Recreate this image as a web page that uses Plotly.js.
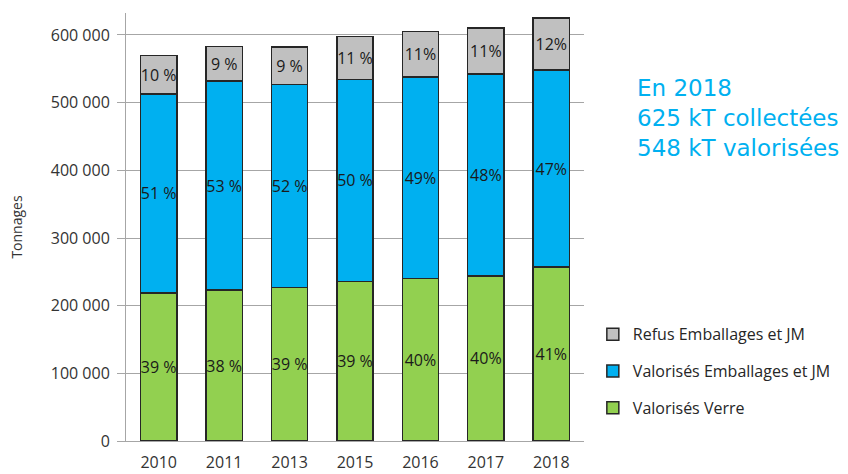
<!DOCTYPE html>
<html>
<head>
<meta charset="utf-8">
<script src="https://cdn.plot.ly/plotly-3.0.1.min.js"></script>
<style>html,body{margin:0;padding:0;background:#fff;}#chart{width:848px;height:474px;}</style>
</head>
<body>
<div id="chart"></div>
<script>
var years = ['2010', '2011', '2013', '2015', '2016', '2017', '2018'];
var verre = [219000, 223000, 227000, 236000, 240000, 244000, 257000];
var emballages = [294000, 309000, 300000, 298000, 298000, 298000, 291000];
var refus = [57000, 51000, 55000, 64000, 67000, 68000, 77000];
var verreLabels = ['39 %', '38 %', '39 %', '39 %', '40%', '40%', '41%'];
var emballagesLabels = ['51 %', '53 %', '52 %', '50 %', '49%', '48%', '47%'];
var refusLabels = ['10 %', '9 %', '9 %', '11 %', '11%', '11%', '12%'];
var yTicks = [0, 100000, 200000, 300000, 400000, 500000, 600000];
var noteLines = ['En 2018', '625 kT collectées', '548 kT valorisées'];

var lineStyle = {color: '#262626', width: 1.5};
var txtFont = {family: 'Open Sans', size: 16, color: '#1a1a1a'};
function mk(name, vals, labels, color, grp, rank) {
  return {
    type: 'bar', name: name, x: years, y: vals, text: labels,
    textposition: 'inside', insidetextanchor: 'middle', textangle: 0,
    constraintext: 'none', textfont: txtFont, legendgroup: grp, legendrank: rank,
    marker: {color: color, line: lineStyle}, hoverinfo: 'skip'
  };
}
var data = [
  mk('Valorisés Verre', verre, verreLabels, '#92D050', 'c', 3),
  mk('Valorisés Emballages et JM', emballages, emballagesLabels, '#00B0F0', 'b', 2),
  mk('Refus Emballages et JM', refus, refusLabels, '#C0C0C0', 'a', 1)
];
var layout = {
  width: 848, height: 474,
  margin: {l: 126, r: 255, t: 13, b: 33},
  paper_bgcolor: '#fff', plot_bgcolor: '#fff',
  separators: ', ',
  barmode: 'stack', bargap: 0.445,
  font: {family: 'Open Sans', color: '#333'},
  showlegend: true,
  legend: {
    x: 1.0193, xanchor: 'left', y: 0.163, yanchor: 'middle',
    traceorder: 'grouped', tracegroupgap: 13,
    font: {family: 'Open Sans', size: 16, color: '#262626'},
    bgcolor: 'rgba(0,0,0,0)'
  },
  xaxis: {
    type: 'category', showline: true, linecolor: '#a6a6a6', linewidth: 1,
    ticks: '', showgrid: false, tickfont: {family: 'Open Sans', size: 16, color: '#333'},
    ticklabelstandoff: 7, range: [-0.5, 6.5], fixedrange: true
  },
  yaxis: {
    range: [0, 632500], tickvals: yTicks, tickformat: ',d',
    showline: true, linecolor: '#a6a6a6', linewidth: 1,
    showgrid: true, gridcolor: '#a6a6a6', gridwidth: 1, zeroline: false,
    ticks: 'outside', ticklen: 8, tickcolor: '#a6a6a6', tickwidth: 1,
    ticklabelstandoff: 4,
    tickfont: {family: 'Open Sans', size: 16, color: '#333'},
    title: {text: 'Tonnages', font: {family: 'Open Sans', size: 14, color: '#333'}, standoff: 24},
    fixedrange: true
  },
  annotations: [{
    xref: 'paper', yref: 'paper', x: 1.111, y: 0.754, xanchor: 'left', yanchor: 'middle',
    align: 'left', showarrow: false, text: noteLines.join('<br>'),
    font: {family: 'DejaVu Sans', size: 23, color: '#00B0F0'}
  }]
};
Plotly.newPlot('chart', data, layout, {displayModeBar: false, staticPlot: true});
</script>
</body>
</html>
